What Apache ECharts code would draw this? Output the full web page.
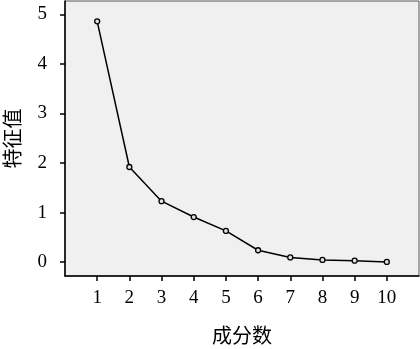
<!DOCTYPE html>
<html>
<head>
<meta charset="utf-8">
<script src="https://cdn.jsdelivr.net/npm/echarts@6/dist/echarts.min.js"></script>
<style>
html,body{margin:0;padding:0;background:#fff;}
#chart{width:420px;height:349px;}
</style>
</head>
<body>
<div id="chart"></div>
<script>
const components = [1, 2, 3, 4, 5, 6, 7, 8, 9, 10];
const eigenvalues = [4.86, 1.92, 1.23, 0.91, 0.63, 0.24, 0.095, 0.045, 0.03, 0.005];
const xTicks = [1, 2, 3, 4, 5, 6, 7, 8, 9, 10];
const yTicks = [0, 1, 2, 3, 4, 5];
const xName = '成分数';
const yName = '特征值';

const serif = '"Liberation Serif", "DejaVu Serif", serif';
const cjk = '"Noto Sans CJK SC", sans-serif';

const chart = echarts.init(document.getElementById('chart'));
chart.setOption({
  animation: false,
  grid: {
    left: 65, right: 1, top: 1, bottom: 73,
    containLabel: false,
    outerBoundsMode: 'none',
    show: true,
    backgroundColor: '#f0f0f0',
    borderColor: '#555',
    borderWidth: 1
  },
  xAxis: {
    type: 'value',
    min: 0, max: 11,
    splitLine: { show: false },
    axisLine: { show: true, onZero: false, lineStyle: { color: '#000', width: 1.5 } },
    axisTick: { show: true, customValues: xTicks, length: 5, lineStyle: { color: '#000', width: 1.5 } },
    axisLabel: { customValues: xTicks, margin: 13, color: '#000', fontFamily: serif, fontSize: 19 },
    name: xName,
    nameLocation: 'middle',
    nameGap: 49,
    nameTextStyle: { color: '#000', fontFamily: cjk, fontSize: 20 }
  },
  yAxis: {
    type: 'value',
    min: -0.28, max: 5.27,
    splitLine: { show: false },
    axisLine: { show: true, onZero: false, lineStyle: { color: '#000', width: 1.5 } },
    axisTick: { show: true, customValues: yTicks, length: 5, lineStyle: { color: '#000', width: 1.5 } },
    axisLabel: { customValues: yTicks, margin: 18, color: '#000', fontFamily: serif, fontSize: 19 },
    name: yName,
    nameLocation: 'middle',
    nameGap: 43,
    nameRotate: 90,
    nameTextStyle: { color: '#000', fontFamily: cjk, fontSize: 20 }
  },
  series: [{
    type: 'line',
    data: components.map((c, i) => [c, eigenvalues[i]]),
    symbol: 'circle',
    symbolSize: 5,
    itemStyle: { color: '#e0e0e0', borderColor: '#000', borderWidth: 1.3 },
    lineStyle: { color: '#000', width: 1.5 }
  }]
});
</script>
</body>
</html>
